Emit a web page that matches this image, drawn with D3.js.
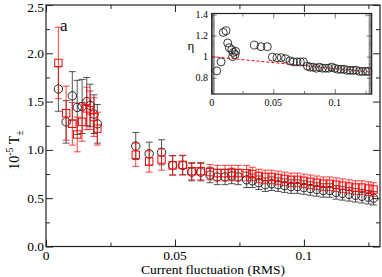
<!DOCTYPE html>
<html>
<head>
<meta charset="utf-8">
<script src="https://cdn.jsdelivr.net/npm/d3@7"></script>
<style>
  body { margin: 0; background: #fff; }
  svg text { font-family: "Liberation Serif", "DejaVu Serif", serif; fill: #000; }
</style>
</head>
<body>
<svg id="chart" width="382" height="277"></svg>
<script>
// main plot data (x = current fluctuation RMS)
var xs = [0.0048, 0.0078, 0.0102, 0.0121, 0.0140, 0.0158, 0.0171, 0.0186, 0.0199,
          0.0348, 0.0400, 0.0448, 0.0491, 0.0530, 0.0565, 0.0600, 0.0636, 0.0664,
          0.0694, 0.0720, 0.0745, 0.0778, 0.0800, 0.0825, 0.0850, 0.0875, 0.0900,
          0.0925, 0.0950, 0.0975, 0.1000, 0.1025, 0.1050, 0.1075, 0.1100, 0.1125,
          0.1150, 0.1175, 0.1200, 0.1225, 0.1250, 0.1270];
var blackY = [1.63, 1.29, 1.56, 1.44, 1.45, 1.50, 1.46, 1.37, 1.27,
              1.04, 0.96, 0.975, 0.84, 0.84, 0.77, 0.77, 0.74, 0.72,
              0.72, 0.73, 0.72, 0.69, 0.68, 0.66, 0.64, 0.65, 0.64,
              0.63, 0.62, 0.62, 0.61, 0.60, 0.59, 0.58, 0.58, 0.56,
              0.55, 0.54, 0.53, 0.52, 0.51, 0.50];
var blackErr = [0.23, 0.22, 0.25, 0.28, 0.28, 0.25, 0.22, 0.20, 0.20,
                0.14, 0.12, 0.13, 0.10, 0.10, 0.09, 0.09, 0.08, 0.08,
                0.08, 0.08, 0.08, 0.08, 0.07, 0.07, 0.07, 0.07, 0.07,
                0.07, 0.07, 0.07, 0.07, 0.07, 0.07, 0.07, 0.07, 0.07,
                0.07, 0.07, 0.07, 0.07, 0.07, 0.07];
var redY = [1.90, 1.38, 1.27, 1.16, 1.29, 1.43, 1.41, 1.34, 1.22,
            0.95, 0.88, 0.90, 0.84, 0.845, 0.78, 0.78, 0.77, 0.76,
            0.76, 0.76, 0.76, 0.76, 0.75, 0.73, 0.72, 0.72, 0.71,
            0.70, 0.69, 0.69, 0.68, 0.67, 0.66, 0.65, 0.65, 0.64,
            0.63, 0.62, 0.61, 0.61, 0.60, 0.59];
var redErr = [0.37, 0.28, 0.22, 0.18, 0.20, 0.22, 0.20, 0.20, 0.17,
              0.12, 0.11, 0.11, 0.10, 0.10, 0.09, 0.09, 0.08, 0.08,
              0.08, 0.08, 0.08, 0.08, 0.07, 0.07, 0.07, 0.07, 0.07,
              0.07, 0.07, 0.07, 0.07, 0.07, 0.07, 0.07, 0.07, 0.07,
              0.07, 0.07, 0.07, 0.07, 0.07, 0.07];

// inset data
var insetX = [0.0041, 0.0076, 0.0094, 0.0116, 0.0130, 0.0143, 0.0163, 0.0176, 0.0195, 0.0170, 0.0190,
              0.0347, 0.0400, 0.0452, 0.0493, 0.0530, 0.0565, 0.0600, 0.0636, 0.0664,
              0.0694, 0.0720, 0.0745, 0.0778, 0.0800, 0.0825, 0.0850, 0.0875, 0.0900,
              0.0925, 0.0950, 0.0975, 0.1000, 0.1025, 0.1050, 0.1075, 0.1100, 0.1125,
              0.1150, 0.1175, 0.1200, 0.1225, 0.1250, 0.1270];
var eta = [0.865, 0.95, 1.23, 1.245, 1.13, 1.085, 1.065, 1.04, 1.05, 1.0, 1.02,
           1.11, 1.095, 1.095, 0.995, 0.99, 0.99, 0.98, 0.96, 0.95,
           0.95, 0.95, 0.95, 0.91, 0.90, 0.90, 0.89, 0.90, 0.89,
           0.89, 0.89, 0.90, 0.89, 0.88, 0.88, 0.88, 0.87, 0.87,
           0.87, 0.87, 0.86, 0.86, 0.86, 0.86];
var fitX = [0, 0.128];
var fitY = [1.0, 0.855];

var xTicks = [0, 0.05, 0.1];
var xTickLabels = ["0", "0.05", "0.1"];
var yTicks = [0, 0.5, 1.0, 1.5, 2.0, 2.5];
var yTickLabels = ["0.0", "0.5", "1.0", "1.5", "2.0", "2.5"];
var insetYTicks = [0.8, 1.0, 1.2, 1.4];
var insetYTickLabels = ["0.8", "1", "1.2", "1.4"];

var svg = d3.select("#chart");

// main axes
var x = d3.scaleLinear().domain([0, 0.1295]).range([46, 380]);
var y = d3.scaleLinear().domain([0, 2.5]).range([246.5, 5]);

function frame(g, xs_, ys_, xMajor, xMinor, yMajor, yMinor, majLen, minLen) {
    var x0 = xs_.range()[0], x1 = xs_.range()[1];
    var y0 = ys_.range()[0], y1 = ys_.range()[1];
    // bottom / top ticks
    g.append("g").attr("transform", "translate(0," + y0 + ")")
        .call(d3.axisBottom(xs_).tickValues(xMinor).tickSize(-minLen).tickFormat(""));
    g.append("g").attr("transform", "translate(0," + y0 + ")")
        .call(d3.axisBottom(xs_).tickValues(xMajor).tickSize(-majLen).tickFormat(""));
    g.append("g").attr("transform", "translate(0," + y1 + ")")
        .call(d3.axisTop(xs_).tickValues(xMinor).tickSize(-minLen).tickFormat(""));
    g.append("g").attr("transform", "translate(0," + y1 + ")")
        .call(d3.axisTop(xs_).tickValues(xMajor).tickSize(-majLen).tickFormat(""));
    // left / right ticks
    g.append("g").attr("transform", "translate(" + x0 + ",0)")
        .call(d3.axisLeft(ys_).tickValues(yMinor).tickSize(-minLen).tickFormat(""));
    g.append("g").attr("transform", "translate(" + x0 + ",0)")
        .call(d3.axisLeft(ys_).tickValues(yMajor).tickSize(-majLen).tickFormat(""));
    g.append("g").attr("transform", "translate(" + x1 + ",0)")
        .call(d3.axisRight(ys_).tickValues(yMinor).tickSize(-minLen).tickFormat(""));
    g.append("g").attr("transform", "translate(" + x1 + ",0)")
        .call(d3.axisRight(ys_).tickValues(yMajor).tickSize(-majLen).tickFormat(""));
    g.selectAll(".domain").remove();
    g.selectAll(".tick line").attr("stroke", "#222");
    g.append("rect")
        .attr("x", x0).attr("y", y1)
        .attr("width", x1 - x0).attr("height", y0 - y1)
        .attr("fill", "none").attr("stroke", "#222").attr("stroke-width", 1.2);
}

var main = svg.append("g");
frame(main, x, y, xTicks, [0.025, 0.075, 0.125], yTicks, [0.25, 0.75, 1.25, 1.75, 2.25], 7, 4);

// main tick labels
main.selectAll(".xl").data(xTicks).enter().append("text")
    .attr("x", function(d) { return x(d); })
    .attr("y", 260)
    .attr("text-anchor", "middle")
    .attr("font-size", 13.5)
    .text(function(d, i) { return xTickLabels[i]; });
main.selectAll(".yl").data(yTicks).enter().append("text")
    .attr("x", 44)
    .attr("y", function(d) { return Math.max(y(d) + 4.5, 12); })
    .attr("text-anchor", "end")
    .attr("font-size", 13.5)
    .text(function(d, i) { return yTickLabels[i]; });

main.append("text")
    .attr("x", 213).attr("y", 274)
    .attr("text-anchor", "middle")
    .attr("font-size", 13.5)
    .text("Current fluctuation (RMS)");

var yl = main.append("text")
    .attr("transform", "translate(19,150) rotate(-90)")
    .attr("text-anchor", "middle")
    .attr("font-size", 14);
yl.append("tspan").text("10");
yl.append("tspan").attr("dy", -6).attr("font-size", 10).text("-5");
yl.append("tspan").attr("dy", 6).text(" T");
yl.append("tspan").attr("dy", 4).attr("font-size", 10).text("±");

main.append("text")
    .attr("x", 60).attr("y", 31)
    .attr("font-size", 17)
    .text("a");

// error bars + markers
function series(g, ys, errs, color, barColor, shape) {
    var gg = g.append("g");
    var cap = 3.5;
    xs.forEach(function(xv, i) {
        var cx = x(xv), yt = y(ys[i] + errs[i]), yb = y(ys[i] - errs[i]);
        gg.append("line").attr("x1", cx).attr("x2", cx).attr("y1", yt).attr("y2", yb)
            .attr("stroke", barColor).attr("stroke-width", 1);
        gg.append("line").attr("x1", cx - cap).attr("x2", cx + cap).attr("y1", yt).attr("y2", yt)
            .attr("stroke", barColor).attr("stroke-width", 1);
        gg.append("line").attr("x1", cx - cap).attr("x2", cx + cap).attr("y1", yb).attr("y2", yb)
            .attr("stroke", barColor).attr("stroke-width", 1);
    });
    if (shape === "circle") {
        gg.selectAll("circle").data(ys).enter().append("circle")
            .attr("cx", function(d, i) { return x(xs[i]); })
            .attr("cy", function(d) { return y(d); })
            .attr("r", 4.2)
            .attr("fill", "none").attr("stroke", color).attr("stroke-width", 1);
    } else {
        gg.selectAll("rect").data(ys).enter().append("rect")
            .attr("x", function(d, i) { return x(xs[i]) - 3.7; })
            .attr("y", function(d) { return y(d) - 3.7; })
            .attr("width", 7.4).attr("height", 7.4)
            .attr("fill", "none").attr("stroke", color).attr("stroke-width", 1);
    }
}
series(main, blackY, blackErr, "#222", "rgba(30,30,30,0.75)", "circle");
series(main, redY, redErr, "#f00", "rgba(255,0,0,0.75)", "square");

// inset
var ix = d3.scaleLinear().domain([0, 0.13]).range([211.7, 371.7]);
var iy = d3.scaleLinear().domain([0.645, 1.41]).range([94, 13.5]);
var inset = svg.append("g");
inset.append("rect").attr("x", 211.7).attr("y", 13.5).attr("width", 160).attr("height", 80.5)
    .attr("fill", "#fff");
var iyMinor = d3.range(0.65, 1.41, 0.01);
frame(inset, ix, iy, [0, 0.05, 0.1], [0.025, 0.075, 0.125], insetYTicks, iyMinor, 5, 3);
inset.selectAll(".tick line").attr("stroke-width", 0.6);

inset.selectAll(".ixl").data([0, 0.05, 0.1]).enter().append("text")
    .attr("x", function(d) { return ix(d); })
    .attr("y", 106)
    .attr("text-anchor", "middle")
    .attr("font-size", 10)
    .text(function(d, i) { return xTickLabels[i]; });
inset.selectAll(".iyl").data(insetYTicks).enter().append("text")
    .attr("x", 208)
    .attr("y", function(d) { return iy(d) + 3.5; })
    .attr("text-anchor", "end")
    .attr("font-size", 10)
    .text(function(d, i) { return insetYTickLabels[i]; });
inset.append("text")
    .attr("x", 191).attr("y", 50)
    .attr("text-anchor", "middle")
    .attr("font-size", 13)
    .text("η");

inset.append("path")
    .datum(fitX.map(function(d, i) { return [d, fitY[i]]; }))
    .attr("d", d3.line().x(function(d) { return ix(d[0]); }).y(function(d) { return iy(d[1]); }))
    .attr("fill", "none").attr("stroke", "#f00").attr("stroke-width", 1)
    .attr("stroke-dasharray", "3,2");

inset.selectAll("circle.eta").data(eta).enter().append("circle")
    .attr("class", "eta")
    .attr("cx", function(d, i) { return ix(insetX[i]); })
    .attr("cy", function(d) { return iy(d); })
    .attr("r", 4)
    .attr("fill", "none").attr("stroke", "#222").attr("stroke-width", 0.9);
</script>
</body>
</html>
